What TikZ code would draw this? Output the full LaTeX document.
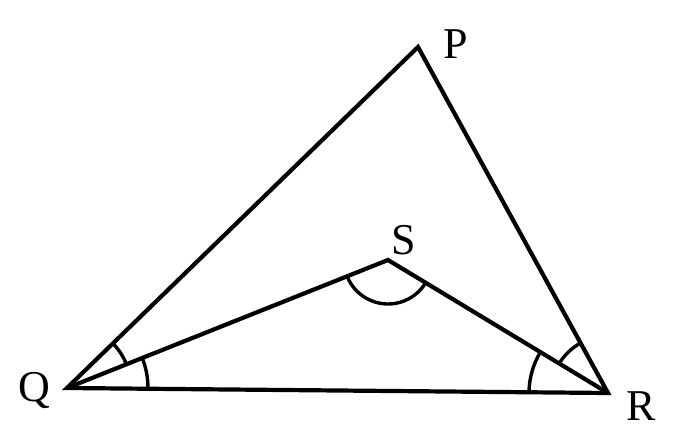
\documentclass[tikz,border=0pt]{standalone}
\usepackage{fontspec}
\setmainfont{Liberation Serif}
\usetikzlibrary{calc}
\begin{document}
\begin{tikzpicture}[x=1pt,y=-1pt,
  edge/.style={line width=4.2pt,line join=miter,line cap=round},
  arcl/.style={line width=3.4pt},
  lbl/.style={font=\fontsize{44}{48}\selectfont,inner sep=0pt}]
\useasboundingbox (0,0) rectangle (682,443);
\coordinate (Q) at (67,388);
\coordinate (P) at (418,47);
\coordinate (R) at (608,393);
\coordinate (S) at (388,260);
\draw[edge] (Q) -- (P) -- (R) -- cycle;
\draw[edge] (Q) -- (S) -- (R);
% angle arcs
\draw[arcl] let \p1=($(P)-(Q)$), \p2=($(S)-(Q)$), \n1={atan2(-\y1,\x1)}, \n2={atan2(-\y2,\x2)} in
  ($(Q)+(\n1:64)$) arc[start angle=\n1, end angle=\n2, radius=64];
\draw[arcl] let \p1=($(S)-(Q)$), \p2=($(R)-(Q)$), \n1={atan2(-\y1,\x1)}, \n2={atan2(-\y2,\x2)} in
  ($(Q)+(\n1:81)$) arc[start angle=\n1, end angle=\n2, radius=81];
\draw[arcl] let \p1=($(P)-(R)$), \p2=($(S)-(R)$), \n1={atan2(-\y1,\x1)}, \n2={atan2(-\y2,\x2)} in
  ($(R)+(\n1:57)$) arc[start angle=\n1, end angle=\n2, radius=57];
\draw[arcl] let \p1=($(S)-(R)$), \p2=($(Q)-(R)$), \n1={atan2(-\y1,\x1)}, \n2={atan2(-\y2,\x2)} in
  ($(R)+(\n1:79)$) arc[start angle=\n1, end angle=\n2, radius=79];
\draw[arcl] let \p1=($(Q)-(S)$), \p2=($(R)-(S)$), \n1={atan2(-\y1,\x1)}, \n2={atan2(-\y2,\x2)} in
  ($(S)+(\n1:44)$) arc[start angle=\n1, end angle=\n2, radius=44];
\node[lbl] (lP) at (456,44) {P};
\node[lbl] (lQ) at (34,390) {Q};
\node[lbl] (lR) at (641,406) {R};
\node[lbl] (lS) at (404,240) {S};
\end{tikzpicture}
\end{document}
